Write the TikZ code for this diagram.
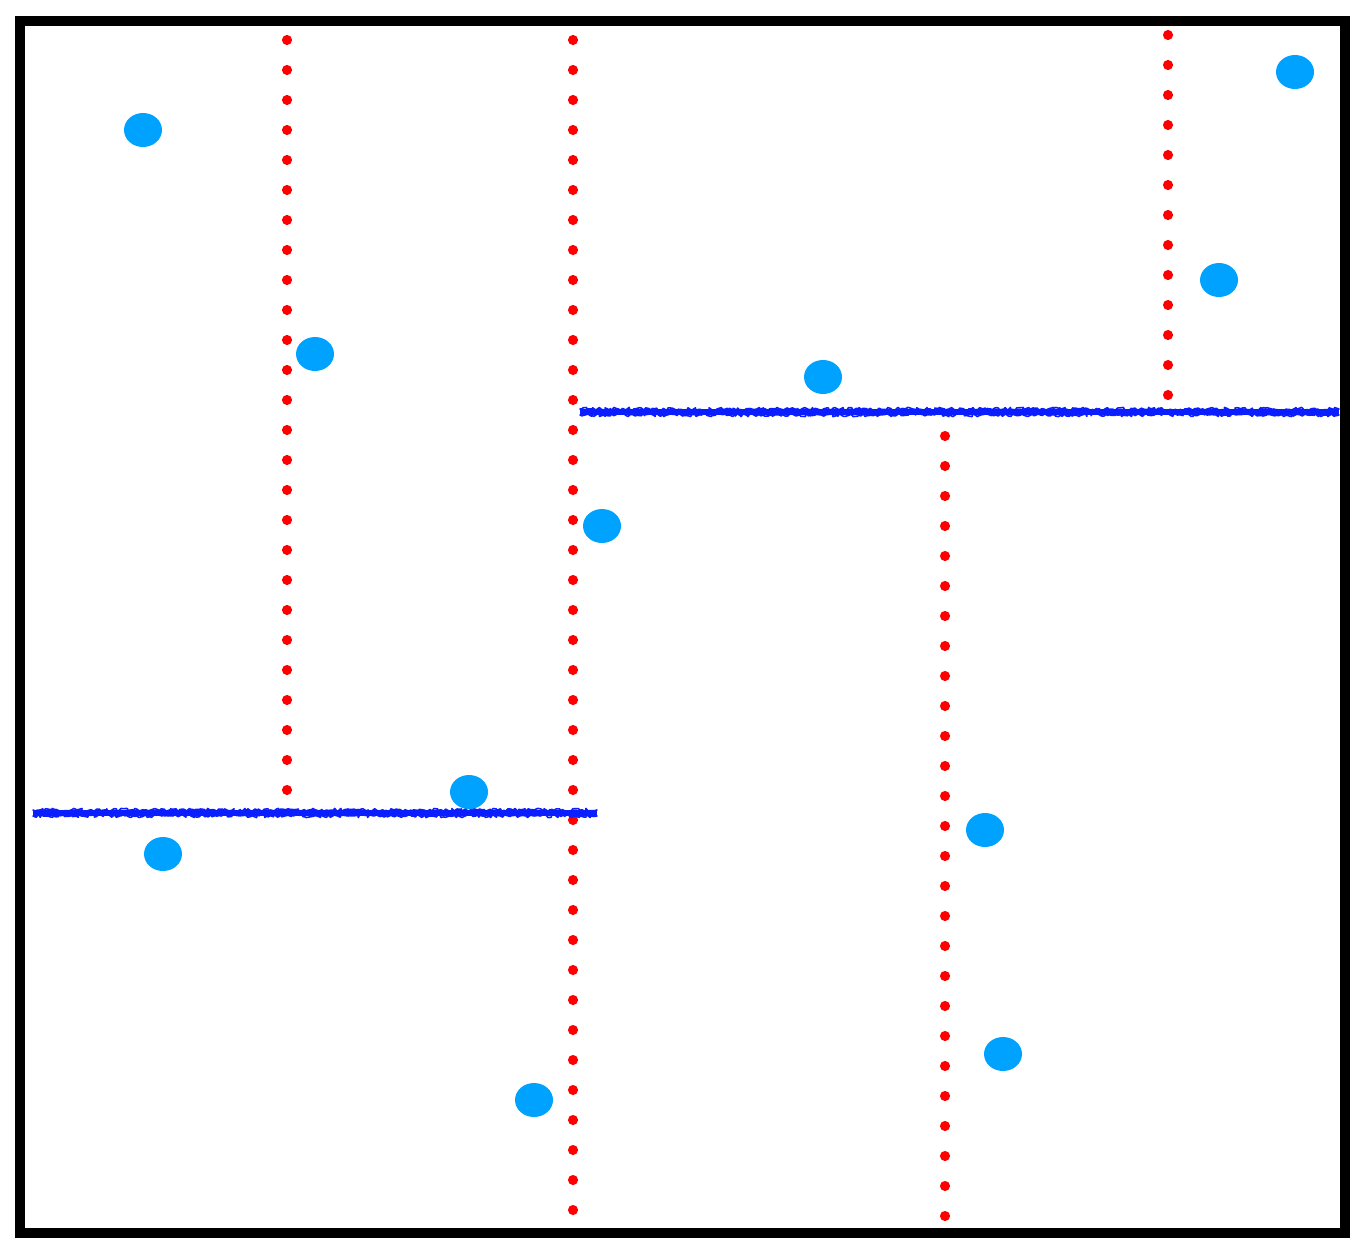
\documentclass[tikz,border=0pt]{standalone}
\usepackage{tikz}
\usetikzlibrary{shapes.geometric, decorations.pathmorphing}

\begin{document}
\begin{tikzpicture}[
  x=0.75pt, y=-0.75pt,
  pnt/.style={ellipse, fill={rgb,255:red,0;green,162;blue,255}, minimum width=28.5pt, minimum height=25.5pt, inner sep=0pt},
  core/.style={draw={rgb,255:red,10;green,30;blue,255}, line width=3.8pt},
  cut/.style={draw={rgb,255:red,10;green,30;blue,255}, line width=1.2pt, line join=round, line cap=round, decorate, decoration={random steps, segment length=1.5pt, amplitude=1.2pt}},
  dot/.style={fill=red}
]
\useasboundingbox (0,0) rectangle (1368,1256);
\draw[line width=7.5pt] (20,21) rectangle (1345,1233);
% dotted splits
\foreach \y in {40,70,...,790} \fill[dot] (287,\y) circle (3.8pt);
\foreach \y in {40,70,...,1210} \fill[dot] (573,\y) circle (3.8pt);
\foreach \y in {436,466,...,1216} \fill[dot] (945,\y) circle (3.8pt);
\foreach \y in {35,65,...,395} \fill[dot] (1168,\y) circle (3.8pt);
% horizontal splits
\draw[core] (580,412) -- (1339,412);
\draw[core] (33,813) -- (597,813);
\foreach \d in {-3,3} {
  \draw[cut] (580,412+\d) -- (1339,412+\d);
  \draw[cut] (33,813+\d) -- (597,813+\d);
}
% points
\node[pnt] (p1) at (143,130) {};
\node[pnt] (p2) at (315,354) {};
\node[pnt] (p3) at (823,377) {};
\node[pnt] (p4) at (1219,280) {};
\node[pnt] (p5) at (1295,72) {};
\node[pnt] (p6) at (602,526) {};
\node[pnt] (p7) at (469,792) {};
\node[pnt] (p8) at (163,854) {};
\node[pnt] (p9) at (985,830) {};
\node[pnt] (p10) at (1003,1054) {};
\node[pnt] (p11) at (534,1100) {};
\end{tikzpicture}
\end{document}
